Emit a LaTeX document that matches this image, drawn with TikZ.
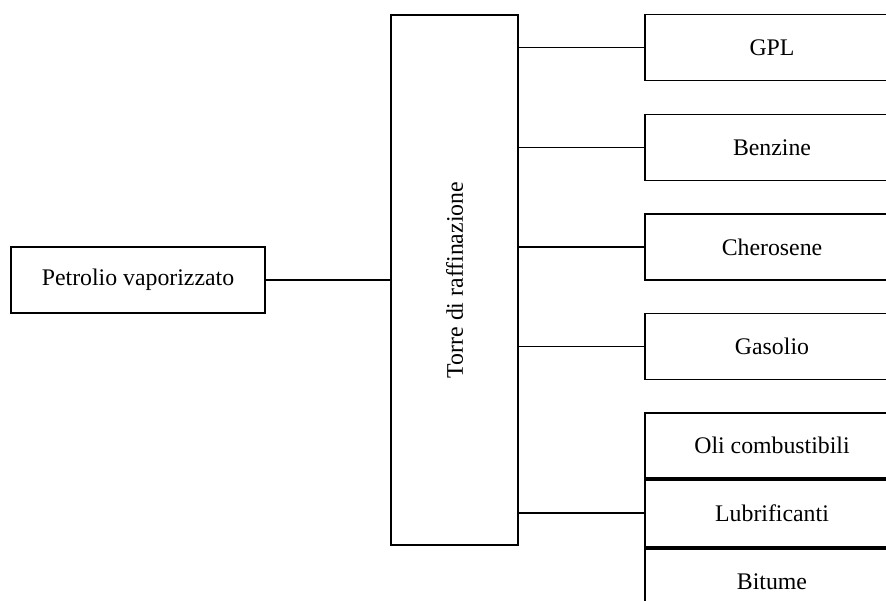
\documentclass[tikz,border=0pt]{standalone}
\usepackage{fontspec}
\setmainfont{Liberation Serif}
\usetikzlibrary{positioning}

\begin{document}
\begin{tikzpicture}[x=1pt,y=-1pt,line width=1.9pt,
    box/.style={draw,rectangle,inner sep=0pt,minimum width=254pt,font=\fontsize{23.8}{26}\selectfont},
    prod/.style={box,minimum height=66pt},
    stack/.style={box,minimum height=66pt}]
  \useasboundingbox (0,0) rectangle (886,600);
  \clip (0,0) rectangle (886,600);
  % ingresso e torre
  \node[box,minimum height=66pt] (petrolio) at (138,280) {Petrolio vaporizzato};
  \node[draw,rectangle,minimum width=127pt,minimum height=530pt] (torre) at (454.5,280) {};
  \node[rotate=90,font=\fontsize{23.8}{26}\selectfont] (torrelab) at (torre.center) {Torre di raffinazione};
  \draw (petrolio.east) -- (torre.west |- petrolio.east);
  % prodotti
  \node[prod] (gpl) at (772,47.5) {GPL};
  \node[prod] (benzine) at (772,147.5) {Benzine};
  \node[prod] (cherosene) at (772,247) {Cherosene};
  \node[prod] (gasolio) at (772,346.5) {Gasolio};
  \node[stack,minimum height=65pt] (oli) at (772,445.5) {Oli combustibili};
  \node[stack,minimum height=67pt,below=0pt of oli] (lubrificanti) {Lubrificanti};
  \node[stack,minimum height=66pt,below=0pt of lubrificanti] (bitume) {Bitume};
  \foreach \p in {gpl,benzine,cherosene,gasolio,lubrificanti}
    \draw (torre.east |- \p.west) -- (\p.west);
\end{tikzpicture}
\end{document}
